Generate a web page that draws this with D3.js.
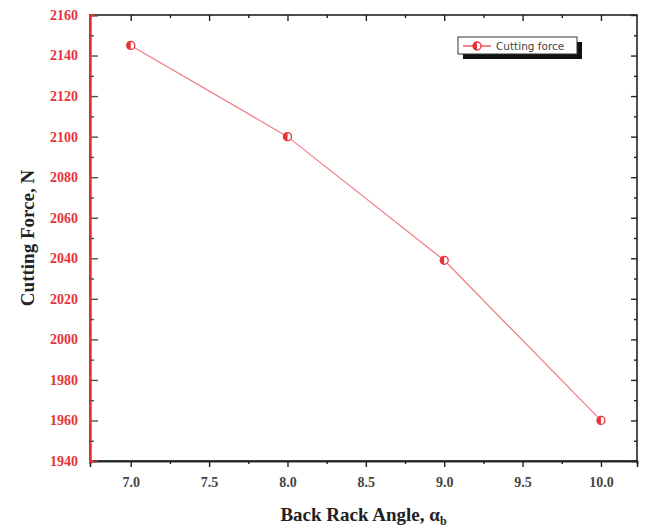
<!DOCTYPE html>
<html>
<head>
<meta charset="utf-8">
<script src="https://cdn.jsdelivr.net/npm/d3@7"></script>
<style>
  body { margin: 0; background: #fff; }
  svg { display: block; }
</style>
</head>
<body>
<script>
// ---- data ----
var angles = [7.0, 8.0, 9.0, 10.0];
var forces = [2145, 2100, 2039, 1960];
var xTicks = [7.0, 7.5, 8.0, 8.5, 9.0, 9.5, 10.0];
var yTicks = [1940, 1960, 1980, 2000, 2020, 2040, 2060, 2080, 2100, 2120, 2140, 2160];
var seriesName = "Cutting force";

var margin = {top: 15, right: 9, bottom: 67, left: 90};
var W = 646, H = 528;
var width = W - margin.left - margin.right;
var height = H - margin.top - margin.bottom;

var red = "#e8333a";

var svg = d3.select("body").append("svg")
    .attr("width", W)
    .attr("height", H);

var g = svg.append("g")
    .attr("transform", "translate(" + margin.left + "," + margin.top + ")");

var x = d3.scaleLinear().domain([6.74, 10.23]).range([0, width]);
var y = d3.scaleLinear().domain([1940, 2160]).range([height, 0]);

var minorX = d3.range(7.25, 10.01, 0.5);
var minorY = d3.range(1950, 2160, 20);

// frame
g.append("rect")
    .attr("width", width).attr("height", height)
    .attr("fill", "none").attr("stroke", "#222").attr("stroke-width", 1.6);

// bottom axis
var bx = g.append("g").attr("transform", "translate(0," + height + ")");
bx.call(d3.axisBottom(x).tickValues(xTicks).tickFormat(d3.format(".1f")).tickSize(6).tickPadding(10));
bx.append("g").call(d3.axisBottom(x).tickValues(minorX).tickFormat("").tickSize(3));
bx.selectAll("path").attr("stroke", "#222").attr("stroke-width", 1.6);
bx.selectAll("line").attr("stroke", "#222").attr("stroke-width", 1.4);
bx.selectAll("text")
    .attr("fill", "#444")
    .style("font-family", "'Liberation Serif', serif")
    .style("font-weight", "bold")
    .style("font-size", "14px");

// top axis (ticks inward)
var tx = g.append("g");
tx.call(d3.axisBottom(x).tickValues(xTicks).tickFormat("").tickSize(6));
tx.append("g").call(d3.axisBottom(x).tickValues(minorX).tickFormat("").tickSize(3));
tx.selectAll("path").remove();
tx.selectAll("line").attr("stroke", "#222").attr("stroke-width", 1.4);

// right axis (ticks inward)
var rx = g.append("g").attr("transform", "translate(" + width + ",0)");
rx.call(d3.axisLeft(y).tickValues(yTicks).tickFormat("").tickSize(6));
rx.append("g").call(d3.axisLeft(y).tickValues(minorY).tickFormat("").tickSize(3));
rx.selectAll("path").remove();
rx.selectAll("line").attr("stroke", "#222").attr("stroke-width", 1.4);

// left axis (red, ticks inward)
var ly = g.append("g");
ly.call(d3.axisRight(y).tickValues(yTicks).tickFormat("").tickSize(8));
ly.append("g").call(d3.axisRight(y).tickValues(minorY).tickFormat("").tickSize(4));
ly.selectAll("path").attr("stroke", red).attr("stroke-width", 2);
ly.selectAll("line").attr("stroke", "#553").attr("stroke-width", 1.4);

g.append("g").selectAll("text")
    .data(yTicks)
    .enter().append("text")
    .attr("x", -12)
    .attr("y", function(d) { return y(d); })
    .attr("dy", "0.35em")
    .attr("text-anchor", "end")
    .attr("fill", red)
    .style("font-family", "'Liberation Serif', serif")
    .style("font-weight", "bold")
    .style("font-size", "14px")
    .text(function(d) { return d; });

// data line
var pts = angles.map(function(a, i) { return [a, forces[i]]; });
var line = d3.line()
    .x(function(d) { return x(d[0]); })
    .y(function(d) { return y(d[1]); });

g.append("path")
    .datum(pts)
    .attr("fill", "none")
    .attr("stroke", "#f07a80")
    .attr("stroke-width", 1.2)
    .attr("d", line);

function marker(sel, cx, cy) {
  sel.append("circle").attr("cx", cx).attr("cy", cy).attr("r", 4)
      .attr("fill", "#fff").attr("stroke", red).attr("stroke-width", 1.3);
  sel.append("path")
      .attr("d", "M" + cx + "," + (cy - 4) + " A4,4 0 0,0 " + cx + "," + (cy + 4) + " Z")
      .attr("fill", red);
}

g.selectAll(".pt")
    .data(pts)
    .enter().append("g")
    .attr("class", "pt")
    .each(function(d) { marker(d3.select(this), x(d[0]), y(d[1])); });

// legend
var lg = svg.append("g").attr("transform", "translate(458,37)");
lg.append("rect").attr("x", 5).attr("y", 5).attr("width", 119).attr("height", 17).attr("fill", "#111");
lg.append("rect").attr("width", 119).attr("height", 17).attr("fill", "#fff").attr("stroke", "#333").attr("stroke-width", 1);
lg.append("line").attr("x1", 5).attr("x2", 33).attr("y1", 9).attr("y2", 9)
    .attr("stroke", red).attr("stroke-width", 1.2);
marker(lg, 19, 9);
lg.append("text").attr("x", 38).attr("y", 13)
    .style("font-family", "'DejaVu Sans', sans-serif")
    .style("font-size", "10.5px")
    .attr("fill", "#444")
    .text(seriesName);

// axis titles
svg.append("text")
    .attr("transform", "translate(27," + (margin.top + height / 2) + ") rotate(-90)")
    .attr("text-anchor", "middle")
    .attr("dy", "0.35em")
    .style("font-family", "'Liberation Serif', serif")
    .style("font-weight", "bold")
    .style("font-size", "19px")
    .attr("fill", "#222")
    .text("Cutting Force, N");

var xt = svg.append("text")
    .attr("x", margin.left + width / 2)
    .attr("y", 521)
    .attr("text-anchor", "middle")
    .style("font-family", "'Liberation Serif', serif")
    .style("font-weight", "bold")
    .style("font-size", "19px")
    .attr("fill", "#222");
xt.append("tspan").text("Back Rack Angle, \u03b1");
xt.append("tspan").attr("dy", 4).style("font-size", "12px").text("b");
</script>
</body>
</html>
